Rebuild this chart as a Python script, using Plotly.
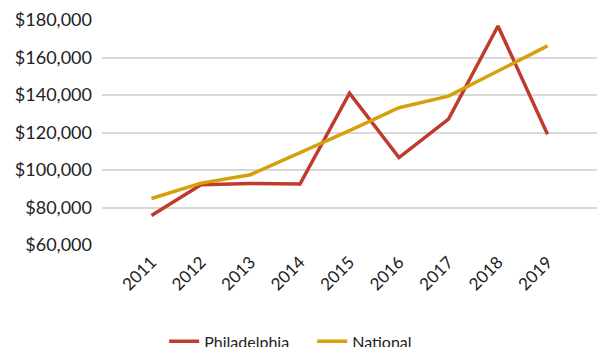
import plotly.graph_objects as go

years = [2011, 2012, 2013, 2014, 2015, 2016, 2017, 2018, 2019]
philadelphia = [75700, 92100, 92800, 92500, 141000, 106600, 127100, 176800, 119100]
national = [84800, 93000, 97500, 109100, 121000, 133200, 139400, 152800, 166200]

fig = go.Figure()
fig.add_trace(go.Scatter(x=years, y=philadelphia, name="Philadelphia", mode="lines",
                         line=dict(color="#BF3B2B", width=3.5)))
fig.add_trace(go.Scatter(x=years, y=national, name="National", mode="lines",
                         line=dict(color="#D6A00B", width=3.5)))

fig.update_layout(
    width=597, height=347,
    margin=dict(l=102, r=0, t=20, b=102, autoexpand=False),
    paper_bgcolor="white", plot_bgcolor="white",
    font=dict(family="Lato, sans-serif", color="#222222", size=16),
    showlegend=True,
    legend=dict(orientation="h", x=0.275, xanchor="left", xref="container",
                y=0.016, yanchor="middle", yref="container",
                entrywidth=103, entrywidthmode="pixels",
                font=dict(size=16), traceorder="normal"),
    xaxis=dict(range=[2010, 2020], tickvals=years, ticktext=[str(y) for y in years],
               tickangle=-45, showgrid=False, zeroline=False, showline=False,
               ticklabelstandoff=3, automargin=False, tickfont=dict(size=17)),
    yaxis=dict(range=[60000, 180000], dtick=20000, tickformat="$,.0f",
               showgrid=True, gridcolor="#D9D9D9", gridwidth=1.5, zeroline=False,
               showline=False, ticks="", ticklen=0, ticklabelstandoff=9,
               automargin=False, tickfont=dict(size=18)),
)

fig.write_html("out.html")
